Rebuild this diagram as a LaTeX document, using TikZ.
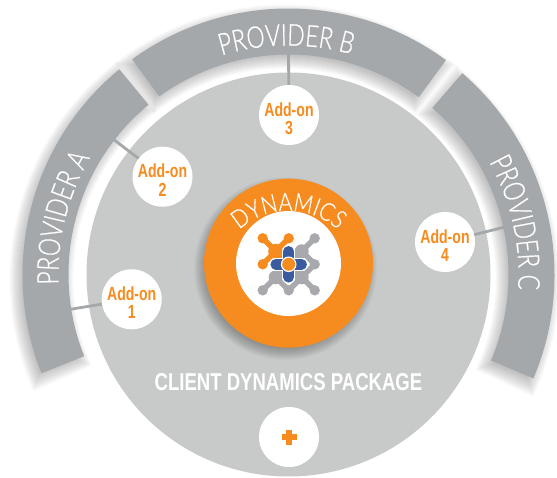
\documentclass[tikz,border=0pt]{standalone}
\usepackage{fontspec}
\usetikzlibrary{decorations.text}
\setmainfont{Liberation Sans}
\newfontfamily\condbold[FakeStretch=0.74]{Liberation Sans Bold}
\newfontfamily\pkgbold[FakeStretch=0.76]{Liberation Sans Bold}
\newfontfamily\provbase[FakeStretch=0.765,FakeBold=0.6]{Lato Light}
\newfontfamily\dynbase[FakeStretch=0.84,FakeBold=0.6]{Lato Light}
\newcommand\provfont{\provbase\fontsize{30}{30}\selectfont\color{white}}
\newcommand\dynfont{\dynbase\fontsize{25}{25}\selectfont\color{white}}
\newcommand\addontext[1]{\raisebox{-10.5pt}[0pt][0pt]{\begin{tabular}{@{}c@{}}Add-on\\#1\end{tabular}}}
\definecolor{ringgray}{HTML}{A5A8AB}
\definecolor{diskgray}{HTML}{C8CAC9}
\definecolor{brandorange}{HTML}{F68B1F}
\definecolor{brandblue}{HTML}{3A5BA0}
\definecolor{logogray}{HTML}{A7A9AC}
\newcommand\segshape[4]{({#1}:{#3}) arc[start angle={#1},end angle={#2},radius={#3}] -- ({#2}:{#4}) arc[start angle={#2},end angle={#1},radius={#4}] -- cycle}
\newcommand\segshadow[2]{\foreach \k in {-4,...,9}{\fill[black,opacity=.018,shift={(-4,-5)}] \segshape{#1-\k*.25}{#2+\k*.25}{266+\k}{220-\k};}}
\tikzset{
  addon/.style={circle,fill=white,minimum size=60pt,inner sep=0pt,text=brandorange,font=\condbold\fontsize{19}{18}\selectfont},
  conn/.style={draw=ringgray,line width=2.8pt},
  ring/.style={fill=ringgray},
  arm/.style={line width=5.5pt,line cap=round}
}
\begin{document}
\begin{tikzpicture}[x=1pt,y=1pt]
\useasboundingbox (0,0) rectangle (557,477);
\begin{scope}[shift={(288.5,202.5)}]
  \segshadow{129.5}{201.8}
  \segshadow{53.7}{126}
  \segshadow{-23}{49.2}
  \fill[diskgray] (0,0) circle[radius=202];
  \fill[ring] \segshape{129.5}{201.8}{266}{220};
  \fill[ring] \segshape{53.7}{126}{266}{220};
  \fill[ring] \segshape{-23}{49.2}{266}{220};
  \path[decorate,decoration={text along path,text align=center,text={|\provfont|PROVIDER A}}] (191:230) arc[start angle=191,end angle=141,radius=230];
  \path[decorate,decoration={text along path,text align=center,text={|\provfont|PROVIDER B}}] (115.5:229) arc[start angle=115.5,end angle=65.5,radius=229];
  \path[decorate,decoration={text along path,text align=center,text={|\provfont|PROVIDER C}}] (37.75:230) arc[start angle=37.75,end angle=-12.25,radius=230];
\end{scope}
% centre circle
\foreach \k in {-5,...,7}{\fill[black,opacity=.022] (285.5,208.5) circle[radius={84.5+\k}];}
\node[circle,fill=brandorange,minimum size=169pt,inner sep=0pt] (core) at (288.5,213.8) {};
\node[circle,fill=white,minimum size=105pt,inner sep=0pt] (coreinner) at (288.5,213.5) {};
\path[decorate,decoration={text along path,text align=center,text={|\dynfont|DYNAMICS}}] (288.5,193.3) ++(140:73) arc[start angle=140,end angle=40,radius=73];
% logo
\begin{scope}[xshift=288.7pt,yshift=212.7pt,x=13pt,y=13pt]
  \foreach \p in {(2,2),(2,0),(-2,-2),(0,-2),(2,-2)}{\fill[logogray] \p circle[radius=5.2pt];}
  \draw[logogray,arm] (2,2)--(1,1)--(2,0)--(1,-1)--(2,-2) (1,1)--(0,0)--(1,-1)--(0,-2)--(-1,-1)--(-2,-2) (0,0)--(-1,-1);
  \fill[logogray] (1,1) circle[radius=7pt] (1,-1) circle[radius=7pt] (-1,-1) circle[radius=7pt];
  \foreach \p in {(-2,2),(0,2),(-2,0)}{\fill[brandorange] \p circle[radius=5.2pt];}
  \draw[brandorange,arm] (-2,2)--(-1,1)--(0,2) (-2,0)--(-1,1)--(0,0);
  \fill[brandorange] (-1,1) circle[radius=7.5pt];
  \draw[white,line width=13pt,line cap=round] (-1,0)--(1,0) (0,1)--(0,-1);
  \draw[brandblue,line width=10.5pt,line cap=round] (-1,0)--(1,0) (0,1)--(0,-1);
  \fill[white] (0,0) circle[radius=7.8pt];
  \fill[brandorange] (0,0) circle[radius=6.5pt];
\end{scope}
% add-ons
\node[addon] (a1) at (131.7,177.7) {\addontext{1}};
\node[addon] (a2) at (162.5,300.3) {\addontext{2}};
\node[addon] (a3) at (289,362) {\addontext{3}};
\node[addon] (a4) at (445,235) {\addontext{4}};
\node[circle,fill=white,minimum size=60pt,inner sep=0pt] (plus) at (289,40) {};
\coordinate (p1) at (69,167.5);
\coordinate (p2) at (113,338);
\coordinate (p3) at (288.5,424);
\coordinate (p4) at (505,250);
\draw[conn] (p1) -- (a1);
\draw[conn] (p2) -- (a2);
\draw[conn] (p3) -- (a3);
\draw[conn] (p4) -- (a4);
\draw[brandorange,line width=5.5pt] ([xshift=-7.5pt]plus.center) -- ([xshift=7.5pt]plus.center) ([yshift=-7.5pt]plus.center) -- ([yshift=7.5pt]plus.center);
\node[text=white,font=\pkgbold\fontsize{24.4}{24.4}\selectfont,inner sep=0pt] (pkg) at (288.5,95.3) {CLIENT DYNAMICS PACKAGE};
\end{tikzpicture}
\end{document}
